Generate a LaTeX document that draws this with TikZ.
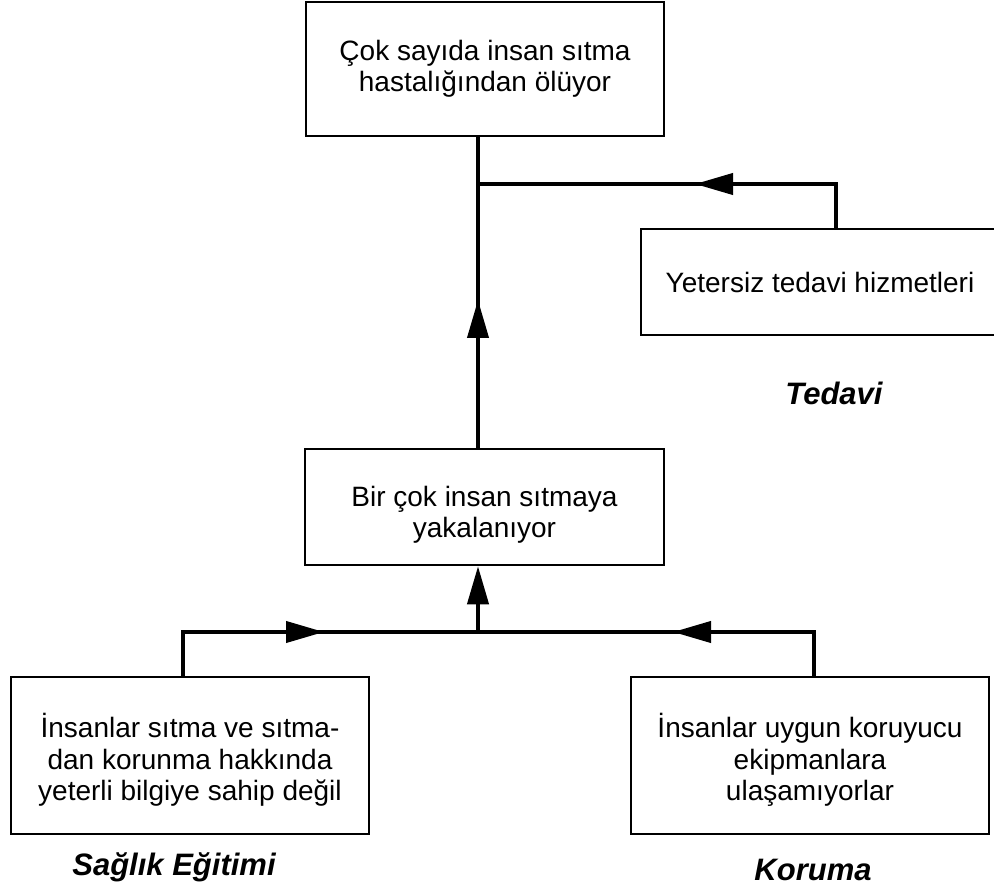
\documentclass[tikz,border=0pt]{standalone}
\usepackage{fontspec}
\setmainfont{Liberation Sans}
\usetikzlibrary{arrows.meta}
\begin{document}
\begin{tikzpicture}[x=1pt,y=-1pt,
  box/.style={draw, line width=2.5pt, inner sep=0pt, minimum width=358pt},
  boxtext/.style={align=center, inner sep=0pt, font=\fontsize{28}{31.5}\selectfont},
  link/.style={line width=4pt, line join=miter},
  tip/.style={-{Triangle[length=38pt,width=21pt]}},
  tag/.style={font=\fontsize{31}{36}\selectfont\bfseries\itshape, inner sep=0pt}]
\useasboundingbox (0,0) rectangle (994,890);

% problem tree boxes
\node[box, minimum height=134pt] (effect) at (485,69) {};
\node[box, minimum height=106pt] (care) at (820,282) {};
\node[box, minimum width=359pt, minimum height=116pt] (cause) at (484.5,507) {};
\node[box, minimum height=157pt] (know) at (190,755.5) {};
\node[box, minimum height=157pt] (equip) at (810,755.5) {};

% box texts
\node[boxtext] (effect-t) at (485,69) {Çok sayıda insan sıtma\\hastalığından ölüyor};
\node[boxtext] (care-t) at (820,282) {Yetersiz tedavi hizmetleri};
\node[boxtext] (cause-t) at (484.5,515) {Bir çok insan sıtmaya\\yakalanıyor};
\node[boxtext] (know-t) at (190,760)
  {İnsanlar sıtma ve sıtma-\\dan korunma hakkında\\yeterli bilgiye sahip değil};
\node[boxtext] (equip-t) at (810,760)
  {İnsanlar uygun koruyucu\\ekipmanlara\\ulaşamıyorlar};

% intervention labels
\node[tag] (tedavi) at (834,393) {Tedavi};
\node[tag] (egitim) at (174,867) {Sağlık Eğitimi};
\node[tag] (koruma) at (813,870) {Koruma};

% junctions and bends
\coordinate (jt) at (478,184);
\coordinate (jb) at (478,632);
\coordinate (tr) at (836,184);
\coordinate (kl) at (183,632);
\coordinate (ek) at (814,632);
% arrow heads along the lines: base, tip
\coordinate (aB) at (478,345);  \coordinate (aT) at (478,300);
\coordinate (bB) at (745,184);  \coordinate (bT) at (695,184);
\coordinate (cB) at (275,632);  \coordinate (cT) at (324,632);
\coordinate (dB) at (722,632);  \coordinate (dT) at (673,632);

% main stem: cause -> effect
\draw[link] (jt |- cause.north) -- (jt |- effect.south);
\draw[link,tip] (aB) -- (aT);

% treatment branch
\draw[link] (tr |- care.north) -- (tr) -- (jt);
\draw[link,tip] (bB) -- (bT);

% education and protection branches
\draw[link] (kl |- know.north) -- (kl) -- (ek) -- (ek |- equip.north);
\draw[link,tip] (cB) -- (cT);
\draw[link,tip] (dB) -- (dT);
\draw[link,tip] (jb) -- (jb |- cause.south);
\end{tikzpicture}
\end{document}
